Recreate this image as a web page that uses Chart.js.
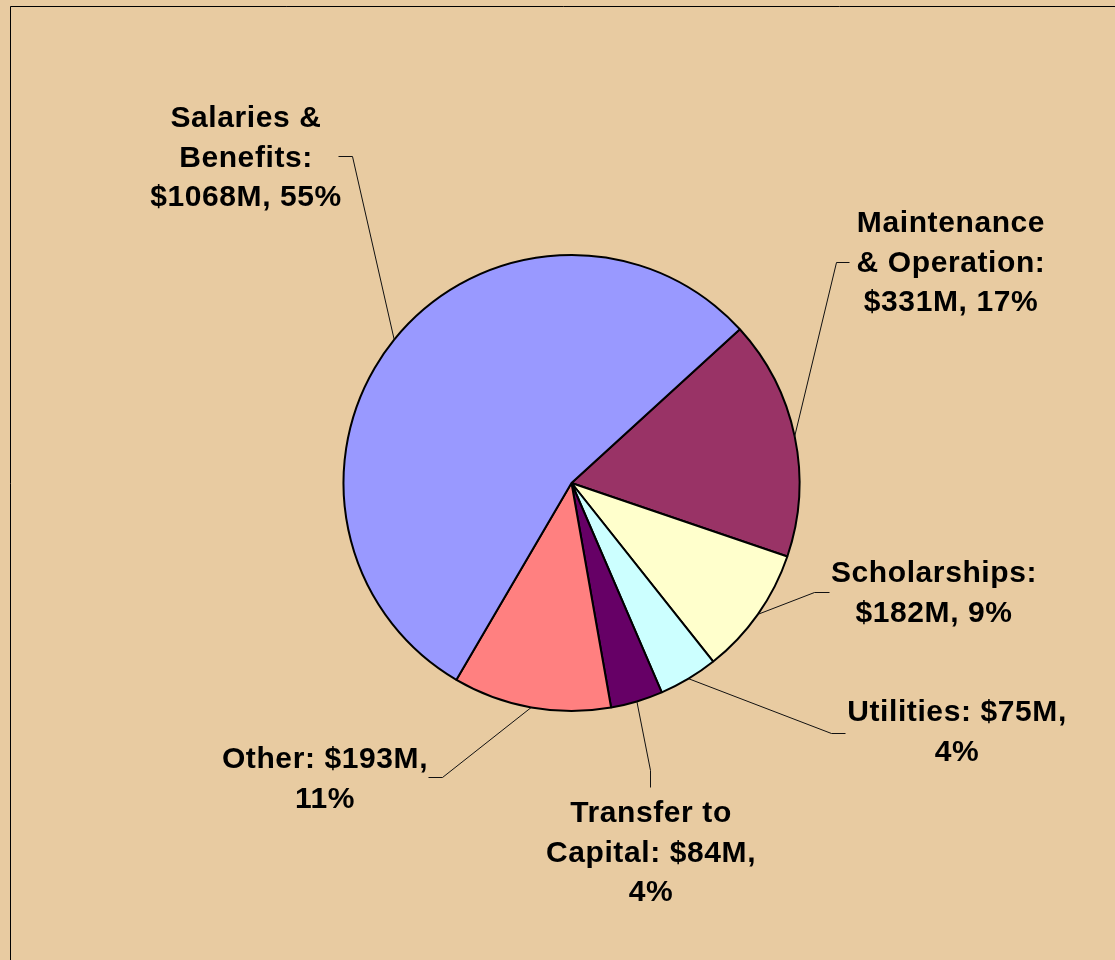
<!DOCTYPE html>
<html>
<head>
<meta charset="utf-8">
<script src="https://cdn.jsdelivr.net/npm/chart.js@4/dist/chart.umd.min.js"></script>
<style>
  html, body { margin: 0; padding: 0; background: rgb(232,203,161); }
  canvas { display: block; }
</style>
</head>
<body>
<canvas id="c" width="1115" height="960"></canvas>
<script>
// ---- data (clockwise from the Salaries/Maintenance boundary) ----
const categories = ['Maintenance & Operation', 'Scholarships', 'Utilities', 'Transfer to Capital', 'Other', 'Salaries & Benefits'];
const dollarsM   = [331, 182, 75, 84, 193, 1068];          // as printed in the labels
const percents   = [17, 9, 4, 4, 11, 55];                   // as printed in the labels
const sliceShare = [17.0, 9.1, 4.2, 3.7, 11.2, 54.8];       // slice sizes
const labelLines = [
  ['Maintenance', '& Operation:', '$331M, 17%'],
  ['Scholarships:', '$182M, 9%'],
  ['Utilities: $75M,', '4%'],
  ['Transfer to', 'Capital: $84M,', '4%'],
  ['Other: $193M,', '11%'],
  ['Salaries &', 'Benefits:', '$1068M, 55%']
];
const colors = ['#993366', '#FFFFCC', '#CCFFFF', '#660066', '#FF8080', '#9999FF'];

// label layout: text centre x, first baseline y; leader: [textEndPoint, elbowPoint]
const labelLayout = [
  { x: 951, y: 232, leader: [[849, 262], [836, 262]] },
  { x: 934, y: 582, leader: [[829, 592], [814, 592]] },
  { x: 957, y: 721, leader: [[845, 733], [831, 733]] },
  { x: 651, y: 822, leader: [[650, 787], [650, 770]] },
  { x: 325, y: 768, leader: [[428, 777], [442, 777]] },
  { x: 246, y: 127, leader: [[338, 156], [352, 156]] }
];
const lineGap = 39.5;

const BG = 'rgb(232,203,161)';

const bgPlugin = {
  id: 'bg',
  beforeDraw(chart) {
    const ctx = chart.ctx;
    ctx.save();
    ctx.fillStyle = BG;
    ctx.fillRect(0, 0, chart.width, chart.height);
    ctx.strokeStyle = '#000';
    ctx.lineWidth = 1;
    ctx.beginPath();
    ctx.moveTo(10.5, chart.height + 5);
    ctx.lineTo(10.5, 6.5);
    ctx.lineTo(chart.width + 5, 6.5);
    ctx.stroke();
    ctx.restore();
  }
};

const labelPlugin = {
  id: 'pieLabels',
  afterDatasetsDraw(chart) {
    const ctx = chart.ctx;
    const arcs = chart.getDatasetMeta(0).data;
    ctx.save();
    ctx.strokeStyle = '#111';
    ctx.lineWidth = 1;
    arcs.forEach((arc, i) => {
      const p = arc.getProps(['x', 'y', 'startAngle', 'endAngle', 'outerRadius'], true);
      const mid = (p.startAngle + p.endAngle) / 2;
      const ex = p.x + Math.cos(mid) * p.outerRadius;
      const ey = p.y + Math.sin(mid) * p.outerRadius;
      const L = labelLayout[i];
      ctx.beginPath();
      ctx.moveTo(L.leader[0][0] + 0.5, L.leader[0][1] + 0.5);
      ctx.lineTo(L.leader[1][0] + 0.5, L.leader[1][1] + 0.5);
      ctx.lineTo(ex, ey);
      ctx.stroke();
    });
    ctx.fillStyle = '#000';
    ctx.font = 'bold 30px "Liberation Sans", Arial, sans-serif';
    if ('letterSpacing' in ctx) ctx.letterSpacing = '0.6px';
    ctx.textAlign = 'center';
    ctx.textBaseline = 'alphabetic';
    labelLines.forEach((lines, i) => {
      const L = labelLayout[i];
      lines.forEach((t, k) => ctx.fillText(t, L.x, L.y + k * lineGap));
    });
    ctx.restore();
  }
};

new Chart(document.getElementById('c'), {
  type: 'pie',
  data: {
    labels: categories,
    datasets: [{
      data: sliceShare,
      backgroundColor: colors,
      borderColor: '#000',
      borderWidth: 2,
      hoverOffset: 0,
      offset: 0
    }]
  },
  options: {
    responsive: false,
    animation: false,
    devicePixelRatio: 1,
    rotation: 47.6,
    layout: { padding: { left: 28, right: 0, top: 254, bottom: 248 } },
    plugins: { legend: { display: false }, tooltip: { enabled: false } },
    events: []
  },
  plugins: [bgPlugin, labelPlugin]
});
</script>
</body>
</html>
